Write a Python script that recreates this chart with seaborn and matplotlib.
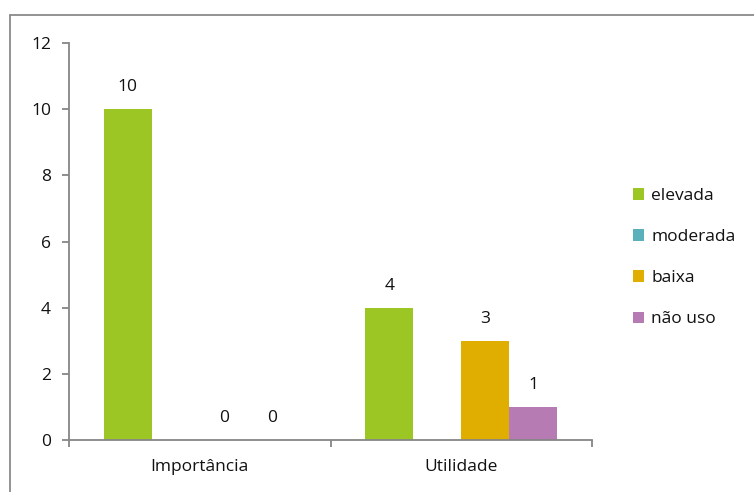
import numpy as np
import pandas as pd
import matplotlib
matplotlib.use("Agg")
import matplotlib.pyplot as plt
from matplotlib.lines import Line2D
from matplotlib.patches import Patch
import seaborn as sns

# Chart data
categorias = ["Importância", "Utilidade"]
series = ["elevada", "moderada", "baixa", "não uso"]
elevada = [10, 4]
moderada = [np.nan, np.nan]
baixa = [0, 3]
nao_uso = [0, 1]
cores = ["#9BC623", "#5AB1BB", "#DFAE00", "#B67BB3"]
y_ticks = [0, 2, 4, 6, 8, 10, 12]

rows = []
for nome, valores in zip(series, [elevada, moderada, baixa, nao_uso]):
    for cat, v in zip(categorias, valores):
        rows.append({"categoria": cat, "serie": nome, "valor": v})
df = pd.DataFrame(rows).dropna()

FS = 12.5
sns.set_style("white")
plt.rcParams["font.family"] = ["Open Sans", "DejaVu Sans"]
plt.rcParams["font.size"] = FS

fig = plt.figure(figsize=(7.54, 4.92), dpi=100)
ax = fig.add_axes([69 / 754, 1 - 440 / 492, (592 - 69) / 754, (440 - 43) / 492])

sns.barplot(data=df, x="categoria", y="valor", hue="serie",
            order=categorias, hue_order=series, palette=cores,
            width=0.734, errorbar=None, saturation=1, linewidth=0,
            legend=False, ax=ax)

for cont in ax.containers:
    ax.bar_label(cont, fmt="%g", padding=10, fontsize=FS, color="#111111")

ax.set_ylim(0, 12)
ax.set_yticks(y_ticks)
ax.set_xlim(-0.5, 1.5)
ax.set_xlabel("")
ax.set_ylabel("")

axis_gray = "#868686"
for s in ["top", "right"]:
    ax.spines[s].set_visible(False)
for s in ["left", "bottom"]:
    ax.spines[s].set_color(axis_gray)
    ax.spines[s].set_linewidth(1.3)

ax.tick_params(axis="y", direction="out", length=5, width=1.3, color=axis_gray,
               pad=8, labelsize=FS, labelcolor="#111111", left=True)
ax.set_xticks([0, 1])
ax.set_xticklabels(categorias)
ax.set_xticks([-0.5, 0.5, 1.5], minor=True)
ax.tick_params(axis="x", which="major", length=0, pad=14, labelsize=FS,
               labelcolor="#111111")
ax.tick_params(axis="x", which="minor", direction="out", length=5, width=1.3,
               color=axis_gray, bottom=True)

handles = [Patch(facecolor=c, edgecolor="none", label=n) for c, n in zip(cores, series)]
fig.legend(handles=handles, loc="upper left", bbox_to_anchor=(626 / 754, 1 - 181 / 492),
           frameon=False, fontsize=FS, handlelength=0.65, handleheight=0.65,
           handletextpad=0.4, labelspacing=1.45, borderaxespad=0,
           labelcolor="#111111")

# Chart frame
x0 = 10 / 754
y0 = 1 - 15 / 492
fig.add_artist(Line2D([x0, x0], [0, y0], transform=fig.transFigure,
                      color="#8a8a8a", linewidth=1.3))
fig.add_artist(Line2D([x0, 1], [y0, y0], transform=fig.transFigure,
                      color="#8a8a8a", linewidth=1.3))

fig.savefig("out.png", dpi=100, facecolor="white")
